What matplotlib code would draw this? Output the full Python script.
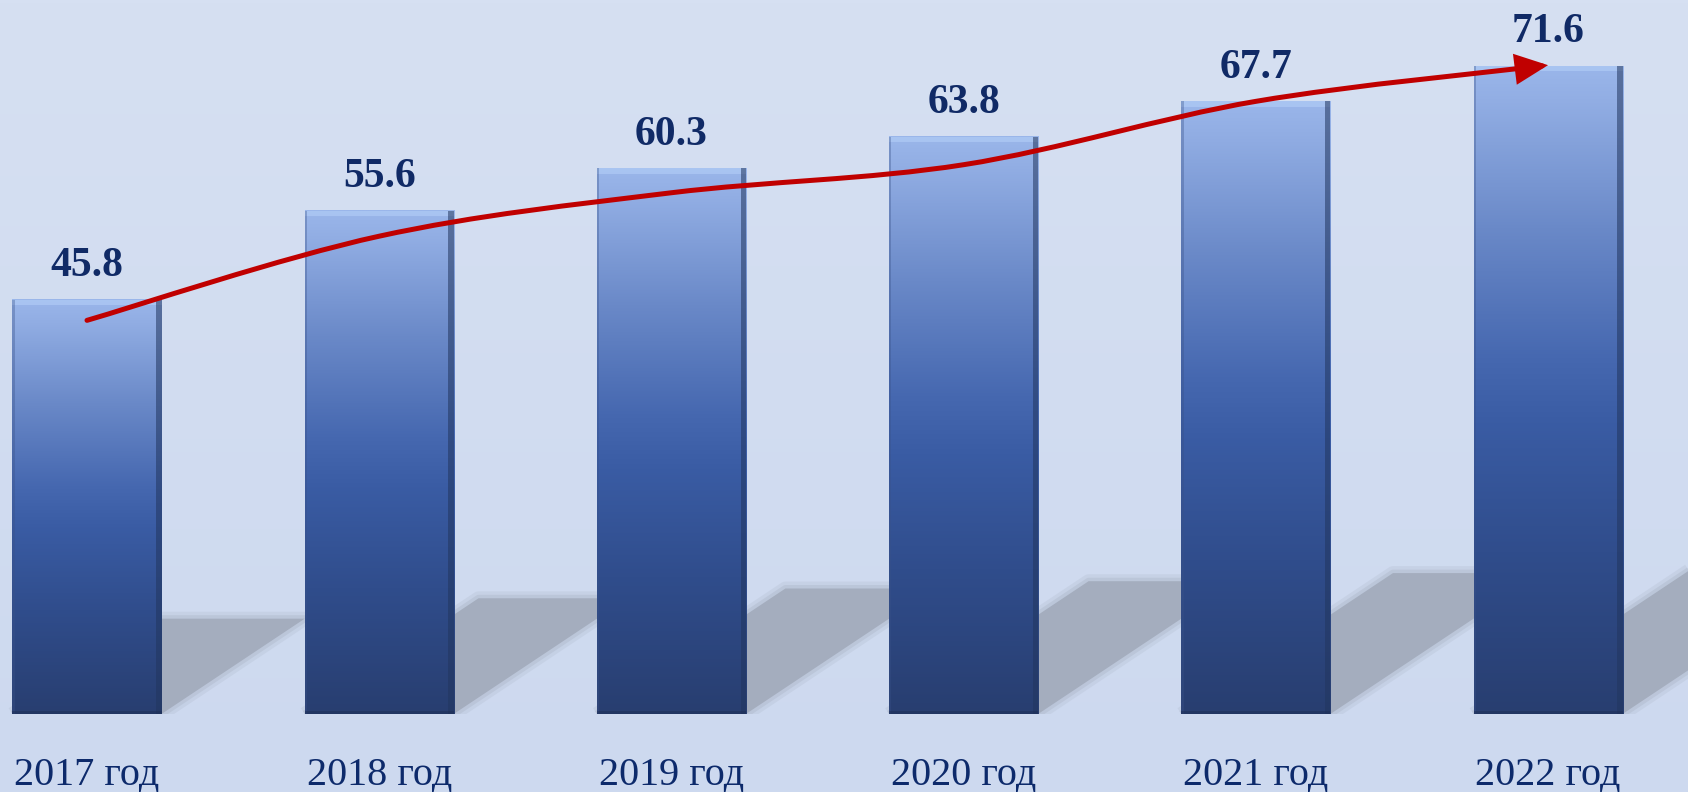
import numpy as np
import matplotlib.pyplot as plt
from matplotlib.path import Path
from matplotlib.patches import FancyArrowPatch, Polygon, Rectangle
from matplotlib.colors import LinearSegmentedColormap

# data
years = ["2017 год", "2018 год", "2019 год", "2020 год", "2021 год", "2022 год"]
values = [45.8, 55.6, 60.3, 63.8, 67.7, 71.6]
trend = [43.5, 52.8, 57.6, 60.7, 67.7, 71.7]  # red arrow

fig = plt.figure(figsize=(16.88, 7.92), dpi=100)

# background gradient
bg = fig.add_axes([0, 0, 1, 1], zorder=0)
bg_cmap = LinearSegmentedColormap.from_list("bg", ["#d6e0f2", "#cdd9ef"])
bg.imshow(np.linspace(0, 1, 256).reshape(-1, 1), cmap=bg_cmap, aspect="auto",
          extent=[0, 1, 0, 1])
bg.axis("off")

ax = fig.add_axes([0, 78 / 792, 1, 714 / 792], zorder=1)
ax.patch.set_alpha(0)
ax.axis("off")

bar_cmap = LinearSegmentedColormap.from_list(
    "bar",
    [(0.0, "#9ab6ea"), (0.05, "#92aee4"), (0.25, "#6a89c8"), (0.45, "#4668b0"),
     (0.55, "#3a5ca4"), (0.75, "#304d8c"), (1.0, "#283e70")],
)
grad = np.linspace(0, 1, 256).reshape(-1, 1)

x = np.arange(len(values))
w = 0.51

for xi, v in zip(x, values):
    l, r = xi - w / 2, xi + w / 2

    # perspective shadow, soft edges without a stroke along the floor
    dx, hs = 0.0107 * v, 0.23 * v
    edge = [(r, 0), (r + dx, hs), (l + dx, hs), (l, 0)]
    for lw, a in [(10, 0.2), (5, 0.3)]:
        ax.add_patch(Polygon(edge, closed=False, facecolor="none", edgecolor="#a4adbe",
                             lw=lw, alpha=a, joinstyle="round", capstyle="butt", zorder=1))
    ax.add_patch(Polygon([(l, 0)] + edge[:-1], closed=True, facecolor="#a4adbe",
                         lw=0, zorder=1.1))

    # bar with vertical gradient
    ax.imshow(grad, cmap=bar_cmap, aspect="auto", extent=[l, r, 0, v], zorder=2)
    ax.add_patch(Rectangle((l, v - 0.6), w, 0.6, color="#adc8f4", alpha=0.8, lw=0, zorder=2.1))
    ax.add_patch(Rectangle((r - 0.018, 0), 0.018, v, color="#22365f", alpha=0.55, lw=0, zorder=2.1))
    ax.add_patch(Rectangle((l, 0), 0.008, v, color="#3a5288", alpha=0.35, lw=0, zorder=2.1))
    ax.add_patch(Rectangle((l, 0), w, 0.35, color="#1e2f55", alpha=0.5, lw=0, zorder=2.1))

    ax.annotate(f"{v:.1f}", (xi, v), xytext=(0, 17), textcoords="offset points",
                ha="center", va="baseline", fontsize=30, fontweight="bold",
                family="Liberation Serif", color="#102a66", zorder=6)

for xi, lab in zip(x, years):
    ax.text(xi, -0.0994, lab, transform=ax.get_xaxis_transform(), ha="center",
            va="baseline", fontsize=29, family="Liberation Serif", color="#0d2a6b",
            clip_on=False)

# smoothed red arrow (bezier through the trend points)
pts = np.column_stack([x, trend]).astype(float)
verts = [pts[0]]
codes = [Path.MOVETO]
for i in range(len(pts) - 1):
    p_prev = pts[max(i - 1, 0)]
    p_next2 = pts[min(i + 2, len(pts) - 1)]
    c1 = pts[i] + (pts[i + 1] - p_prev) / 6
    c2 = pts[i + 1] - (p_next2 - pts[i]) / 6
    verts += [c1, c2, pts[i + 1]]
    codes += [Path.CURVE4] * 3

arrow = FancyArrowPatch(path=Path(verts, codes),
                        arrowstyle="-|>,head_length=0.9,head_width=0.42",
                        mutation_scale=20, color="#c00000", lw=3.6,
                        capstyle="round", joinstyle="miter", zorder=5)
ax.add_patch(arrow)

ax.set_xlim(-0.2977, 5.479)
ax.set_ylim(0, 78.9)

fig.savefig("out.png", dpi=100)
